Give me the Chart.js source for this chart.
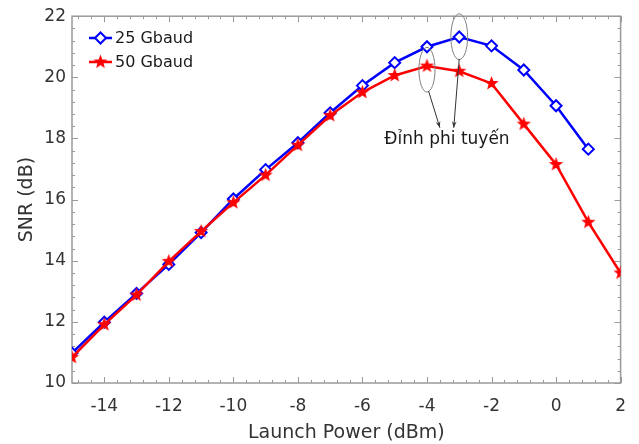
<!DOCTYPE html>
<html>
<head>
<meta charset="utf-8">
<script src="https://cdn.jsdelivr.net/npm/chart.js@4.4.0/dist/chart.umd.min.js"></script>
<style>
    html, body { margin: 0; padding: 0; background: #fff; }
</style>
</head>
<body>
<canvas id="snrChart" width="639" height="444"></canvas>
<script>
// Chart data
const launchPower25 = [-15, -14, -13, -12, -11, -10, -9, -8, -7, -6, -5, -4, -3, -2, -1, 0, 1];
const snr25 = [10.98, 11.99, 12.93, 13.88, 14.92, 16.02, 16.98, 17.86, 18.84, 19.73, 20.48, 21.0, 21.32, 21.03, 20.24, 19.07, 17.65];
const launchPower50 = [-15, -14, -13, -12, -11, -10, -9, -8, -7, -6, -5, -4, -3, -2, -1, 0, 1, 2];
const snr50 = [10.84, 11.91, 12.88, 13.98, 14.96, 15.9, 16.8, 17.78, 18.75, 19.51, 20.06, 20.37, 20.2, 19.8, 18.47, 17.15, 15.26, 13.6];
const xTickValues = [-14, -12, -10, -8, -6, -4, -2, 0, 2];
const yTickValues = [10, 12, 14, 16, 18, 20, 22];
const seriesNames = ['25 Gbaud', '50 Gbaud'];
const peakText = 'Đỉnh phi tuyến';

const FONT = 'DejaVu Sans';
const TEXT_COLOR = '#333333';
const FRAME_COLOR = '#9a9a9a';

// Filled five-point star marker (pentagram)
function makeStar(color, r) {
    const size = Math.ceil(r * 2 + 2);
    const c = document.createElement('canvas');
    c.width = size;
    c.height = size;
    const g = c.getContext('2d');
    const cx = size / 2, cy = size / 2;
    g.beginPath();
    for (let i = 0; i < 10; i++) {
        const rad = i % 2 === 0 ? r : r * 0.42;
        const a = -Math.PI / 2 + i * Math.PI / 5;
        const px = cx + rad * Math.cos(a);
        const py = cy + rad * Math.sin(a);
        if (i === 0) g.moveTo(px, py); else g.lineTo(px, py);
    }
    g.closePath();
    g.fillStyle = color;
    g.fill();
    return c;
}
const starImg = makeStar('#ff0000', 7.5);

// Box frame with inward major/minor ticks on all four sides
const frameTicks = {
    id: 'frameTicks',
    beforeDatasetsDraw(chart) {
        const { ctx, chartArea: a, scales: { x, y } } = chart;
        ctx.save();
        ctx.strokeStyle = FRAME_COLOR;
        ctx.lineWidth = 1.5;
        ctx.strokeRect(a.left, a.top, a.right - a.left, a.bottom - a.top);
        ctx.lineWidth = 1;
        ctx.beginPath();
        const step = 0.4;
        for (let k = Math.ceil(x.min / step - 1e-9); k <= Math.floor(x.max / step + 1e-9); k++) {
            const v = k * step;
            const major = Math.abs(v / 2 - Math.round(v / 2)) < 1e-6;
            const len = major ? 6 : 3;
            const px = Math.round(x.getPixelForValue(v)) + 0.5;
            ctx.moveTo(px, a.bottom); ctx.lineTo(px, a.bottom - len);
            ctx.moveTo(px, a.top); ctx.lineTo(px, a.top + len);
        }
        for (let k = Math.ceil(y.min / step - 1e-9); k <= Math.floor(y.max / step + 1e-9); k++) {
            const v = k * step;
            const major = Math.abs(v / 2 - Math.round(v / 2)) < 1e-6;
            const len = major ? 6 : 3;
            const py = Math.round(y.getPixelForValue(v)) + 0.5;
            ctx.moveTo(a.left, py); ctx.lineTo(a.left + len, py);
            ctx.moveTo(a.right, py); ctx.lineTo(a.right - len, py);
        }
        ctx.stroke();
        ctx.restore();
    }
};

// Legend (line + marker + label) and the peak annotation
const overlay = {
    id: 'overlay',
    afterDraw(chart) {
        const { ctx, scales: { x, y } } = chart;
        ctx.save();

        // legend
        const rows = [38, 62];
        chart.data.datasets.forEach((ds, i) => {
            const ly = rows[i];
            ctx.strokeStyle = ds.borderColor;
            ctx.lineWidth = ds.borderWidth;
            ctx.beginPath();
            ctx.moveTo(89, ly);
            ctx.lineTo(112, ly);
            ctx.stroke();
            if (ds.pointStyle === starImg) {
                ctx.drawImage(starImg, 100.5 - starImg.width / 2, ly - starImg.height / 2);
            } else {
                ctx.fillStyle = ds.pointBackgroundColor;
                ctx.strokeStyle = ds.pointBorderColor;
                ctx.lineWidth = ds.pointBorderWidth;
                Chart.helpers.drawPoint(ctx, { pointStyle: ds.pointStyle, radius: ds.pointRadius, borderWidth: ds.pointBorderWidth, rotation: 0 }, 100.5, ly);
            }
            ctx.fillStyle = '#1a1a1a';
            ctx.font = '16px "' + FONT + '"';
            ctx.textAlign = 'left';
            ctx.textBaseline = 'middle';
            ctx.fillText(seriesNames[i], 115, ly + 1);
        });

        // ellipses around the two peaks
        const ellipses = [
            { cx: -4, cy: 20.25, rx: 0.25, ry: 0.73 },
            { cx: -3, cy: 21.33, rx: 0.26, ry: 0.75 }
        ];
        ctx.strokeStyle = '#808080';
        ctx.lineWidth = 1;
        ellipses.forEach(e => {
            const px = x.getPixelForValue(e.cx);
            const py = y.getPixelForValue(e.cy);
            const rx = x.getPixelForValue(e.cx + e.rx) - px;
            const ry = py - y.getPixelForValue(e.cy + e.ry);
            ctx.beginPath();
            ctx.ellipse(px, py, rx, ry, 0, 0, Math.PI * 2);
            ctx.stroke();
        });

        // arrows down to the label
        const arrows = [
            { x0: -3.95, y0: 19.55, x1: -3.6, y1: 18.35 },
            { x0: -3.0, y0: 20.6, x1: -3.17, y1: 18.35 }
        ];
        ctx.strokeStyle = '#333';
        ctx.fillStyle = '#333';
        arrows.forEach(ar => {
            const sx = x.getPixelForValue(ar.x0), sy = y.getPixelForValue(ar.y0);
            const ex = x.getPixelForValue(ar.x1), ey = y.getPixelForValue(ar.y1);
            ctx.beginPath();
            ctx.moveTo(sx, sy);
            ctx.lineTo(ex, ey);
            ctx.stroke();
            const ang = Math.atan2(ey - sy, ex - sx);
            const hl = 7, hw = 0.35;
            ctx.beginPath();
            ctx.moveTo(ex, ey);
            ctx.lineTo(ex - hl * Math.cos(ang - hw), ey - hl * Math.sin(ang - hw));
            ctx.lineTo(ex - hl * 0.6 * Math.cos(ang), ey - hl * 0.6 * Math.sin(ang));
            ctx.lineTo(ex - hl * Math.cos(ang + hw), ey - hl * Math.sin(ang + hw));
            ctx.closePath();
            ctx.fill();
        });

        // label
        ctx.fillStyle = '#1a1a1a';
        ctx.font = '17px "' + FONT + '"';
        ctx.textAlign = 'center';
        ctx.textBaseline = 'middle';
        ctx.fillText(peakText, x.getPixelForValue(-3.38), y.getPixelForValue(17.96));

        ctx.restore();
    }
};

const ctx = document.getElementById('snrChart').getContext('2d');
const snrChart = new Chart(ctx, {
    type: 'line',
    data: {
        datasets: [{
            label: seriesNames[0],
            data: launchPower25.map((p, i) => ({ x: p, y: snr25[i] })),
            borderColor: '#0000ff',
            borderWidth: 2.5,
            pointStyle: 'rectRot',
            pointRadius: 5.5,
            pointBorderWidth: 2,
            pointBorderColor: '#0000ff',
            pointBackgroundColor: '#ffffff',
            tension: 0,
            order: 2
        }, {
            label: seriesNames[1],
            data: launchPower50.map((p, i) => ({ x: p, y: snr50[i] })),
            borderColor: '#ff0000',
            borderWidth: 2.5,
            pointStyle: starImg,
            pointRadius: 7,
            tension: 0,
            order: 1
        }]
    },
    options: {
        responsive: false,
        animation: false,
        layout: { padding: { top: 12, right: 17, left: 0, bottom: 0 } },
        plugins: {
            legend: { display: false },
            tooltip: { enabled: false }
        },
        scales: {
            x: {
                type: 'linear',
                min: -15,
                max: 2,
                grid: { display: false, drawTicks: false },
                border: { display: false },
                afterBuildTicks: s => { s.ticks = xTickValues.map(v => ({ value: v })); },
                afterFit: s => { s.height = 61; },
                ticks: {
                    color: TEXT_COLOR,
                    font: { family: FONT, size: 17 },
                    padding: 13,
                    maxRotation: 0,
                    autoSkip: false
                },
                title: {
                    display: true,
                    text: 'Launch Power (dBm)',
                    color: TEXT_COLOR,
                    font: { family: FONT, size: 19 },
                    padding: { top: 0, bottom: 0 }
                }
            },
            y: {
                min: 10,
                max: 22,
                grid: { display: false, drawTicks: false },
                border: { display: false },
                afterBuildTicks: s => { s.ticks = yTickValues.map(v => ({ value: v })); },
                afterFit: s => { s.width = 72; },
                ticks: {
                    color: TEXT_COLOR,
                    font: { family: FONT, size: 17 },
                    padding: 6
                },
                title: {
                    display: true,
                    text: 'SNR (dB)',
                    color: TEXT_COLOR,
                    font: { family: FONT, size: 19 },
                    padding: { top: 16, bottom: 0 }
                }
            }
        }
    },
    plugins: [frameTicks, overlay]
});
</script>
</body>
</html>
